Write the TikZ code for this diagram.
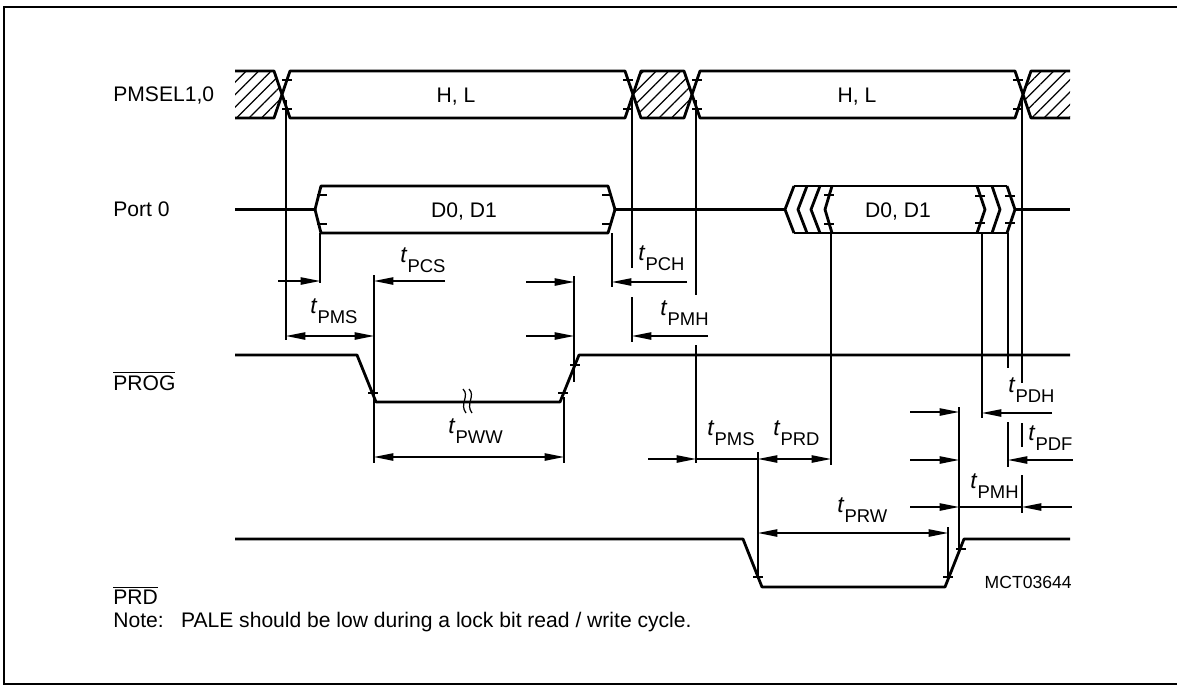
\documentclass[tikz,border=0pt]{standalone}
\usepackage{fontspec}
\setmainfont{Liberation Sans}
\usetikzlibrary{arrows.meta,patterns.meta}
\newcommand{\tsub}[1]{{\fontsize{13}{14}\selectfont\itshape t}\kern0.5pt\raisebox{-6pt}{\fontsize{10.5}{12}\selectfont #1}}
\tikzset{
  sig/.style={line width=1.6pt, line join=round},
  ref/.style={line width=0.7pt},
  dim/.style={line width=0.7pt, -{Triangle[length=11pt,width=4.2pt]}},
  dimb/.style={line width=0.7pt, {Triangle[length=11pt,width=4.2pt]}-{Triangle[length=11pt,width=4.2pt]}},
  hatch/.style={pattern={Lines[angle=45,distance=5pt,line width=0.7pt]}},
  lbl/.style={font=\fontsize{12}{14}\selectfont, inner sep=0pt},
  tk/.pic={\draw[line width=0.7pt] (-5,0) -- (5,0);}
}
\begin{document}
\begin{tikzpicture}[x=0.02cm, y=-0.02cm]
\useasboundingbox (0,0) rectangle (1177,690);
\draw[line width=0.8pt] (1177,7) -- (4,7) -- (4,684) -- (1177,684);

\node[lbl, anchor=base west] (sel) at (113,101) {PMSEL1,0};
\node[lbl, anchor=base west] (port) at (113,216) {Port 0};
\node[lbl, anchor=base west] (prog) at (113,390) {$\overline{\mbox{PROG}}$};
\node[lbl, anchor=base west] (prd) at (113,604) {$\overline{\mbox{PRD}}$};
\node[lbl, anchor=base west] (note) at (113,627) {Note:\hspace{0.45em} PALE should be low during a lock bit read / write cycle.};
\node[font=\fontsize{10}{12}\selectfont, inner sep=0pt, anchor=base east] (mct) at (1072,588) {MCT03644};

\fill[hatch] (235,71) -- (274,71) -- (282,94.5) -- (274,118) -- (235,118) -- cycle;
\fill[hatch] (633,94.5) -- (641,71) -- (684,71) -- (692,94.5) -- (684,118) -- (641,118) -- cycle;
\fill[hatch] (1023,94.5) -- (1031,71) -- (1070,71) -- (1070,118) -- (1031,118) -- cycle;
\draw[sig] (235,71) -- (274,71) -- (290,118) -- (625,118) -- (641,71) -- (684,71) -- (700,118) -- (1015,118) -- (1031,71) -- (1070,71);
\draw[sig] (235,118) -- (274,118) -- (290,71) -- (625,71) -- (641,118) -- (684,118) -- (700,71) -- (1015,71) -- (1031,118) -- (1070,118);
\node[lbl, anchor=base] (hl1) at (456,102) {H, L};
\node[lbl, anchor=base] (hl2) at (857,102) {H, L};
\pic at (287,80) {tk}; \pic at (287,109) {tk};
\pic at (628,80) {tk}; \pic at (628,109) {tk};
\pic at (697,80) {tk}; \pic at (697,109) {tk};
\pic at (1018,80) {tk}; \pic at (1018,109) {tk};

\draw[sig] (235,209.5) -- (315,209.5) -- (321,186) -- (608,186) -- (615,209.5) -- (785,209.5);
\draw[sig] (315,209.5) -- (321,233) -- (608,233) -- (615,209.5);
\draw[sig] (794,186) -- (785,209.5) -- (794,233);
\draw[sig] (807,186) -- (798,209.5) -- (807,233);
\draw[sig] (820,186) -- (811,209.5) -- (820,233);
\draw[sig] (832,186) -- (825,209.5) -- (832,233);
\draw[sig] (794,186) -- (1007,186);
\draw[sig] (794,233) -- (1007,233);
\draw[sig] (977,186) -- (985,209.5) -- (977,233);
\draw[sig] (992,186) -- (1000,209.5) -- (992,233);
\draw[sig] (1007,186) -- (1015,209.5) -- (1007,233);
\draw[sig] (1015,209.5) -- (1070,209.5);
\node[lbl, anchor=base] (d1) at (464,217) {D0, D1};
\node[lbl, anchor=base] (d2) at (898,217) {D0, D1};
\pic at (322,195) {tk}; \pic at (322,224) {tk};
\pic at (607,195) {tk}; \pic at (607,224) {tk};
\pic at (829,195) {tk}; \pic at (829,224) {tk};
\pic at (980,196) {tk}; \pic at (980,223) {tk};
\pic at (1010,196) {tk}; \pic at (1010,223) {tk};

\draw[sig] (235,355) -- (357,355) -- (376,402) -- (560,402) -- (579,355) -- (1070,355);
\pic at (373,393) {tk}; \pic at (563,393) {tk}; \pic at (575,365) {tk};
\draw[ref] (463,389) .. controls (470,396) and (459,404) .. (466,413);
\draw[ref] (469,389) .. controls (476,396) and (465,404) .. (472,413);

\draw[sig] (235,539) -- (743,539) -- (762,587) -- (945,587) -- (964,539) -- (1070,539);
\pic at (758,577) {tk}; \pic at (948,577) {tk}; \pic at (961,549) {tk};

\draw[ref] (286,100) -- (286,340);
\draw[ref] (320,233) -- (320,283);
\draw[ref] (374,275) -- (374,463);
\draw[ref] (574,276) -- (574,382);
\draw[ref] (564,397) -- (564,463);
\draw[ref] (612,233) -- (612,287);
\draw[ref] (632,100) -- (632,268);
\draw[ref] (632,297) -- (632,342);
\draw[ref] (696,100) -- (696,295);
\draw[ref] (696,345) -- (696,463);
\draw[ref] (758,452) -- (758,577);
\draw[ref] (831,233) -- (831,465);
\draw[ref] (948,527) -- (948,577);
\draw[ref] (959,407) -- (959,550);
\draw[ref] (982,233) -- (982,418);
\draw[ref] (1008,233) -- (1008,368);
\draw[ref] (1008,422) -- (1008,467);
\draw[ref] (1022,100) -- (1022,383);
\draw[ref] (1022,423) -- (1022,447);
\draw[ref] (1022,475) -- (1022,513);

\draw[dim] (278,281) -- (320,281);
\draw[dimb] (286,336) -- (374,336);
\draw[dim] (445,281) -- (374,281);
\draw[dim] (526,282) -- (574,282);
\draw[dim] (526,336) -- (574,336);
\draw[dim] (687,282) -- (612,282);
\draw[dim] (708,336) -- (632,336);
\draw[dimb] (374,457) -- (564,457);
\draw[dim] (648,459) -- (696,459);
\draw[ref] (696,459) -- (758,459);
\draw[dimb] (758,459) -- (831,459);
\draw[dimb] (758,533) -- (948,533);
\draw[dim] (910,412) -- (959,412);
\draw[dim] (910,460) -- (959,460);
\draw[dim] (910,507) -- (959,507);
\draw[ref] (959,507) -- (1022,507);
\draw[dim] (1072,507) -- (1022,507);
\draw[dim] (1052,413) -- (982,413);
\draw[dim] (1073,460) -- (1008,460);

\node[inner sep=0pt, anchor=base west] (tpms1) at (310,313) {\tsub{PMS}};
\node[inner sep=0pt, anchor=base west] (tpcs) at (400,262) {\tsub{PCS}};
\node[inner sep=0pt, anchor=base west] (tpch) at (638,260) {\tsub{PCH}};
\node[inner sep=0pt, anchor=base west] (tpmh1) at (660,315) {\tsub{PMH}};
\node[inner sep=0pt, anchor=base west] (tpww) at (448,433) {\tsub{PWW}};
\node[inner sep=0pt, anchor=base west] (tpms2) at (707,435) {\tsub{PMS}};
\node[inner sep=0pt, anchor=base west] (tprd) at (773,435) {\tsub{PRD}};
\node[inner sep=0pt, anchor=base west] (tprw) at (837,512) {\tsub{PRW}};
\node[inner sep=0pt, anchor=base west] (tpmh2) at (970,488) {\tsub{PMH}};
\node[inner sep=0pt, anchor=base west] (tpdh) at (1008,392) {\tsub{PDH}};
\node[inner sep=0pt, anchor=base west] (tpdf) at (1028,440) {\tsub{PDF}};
\end{tikzpicture}
\end{document}
